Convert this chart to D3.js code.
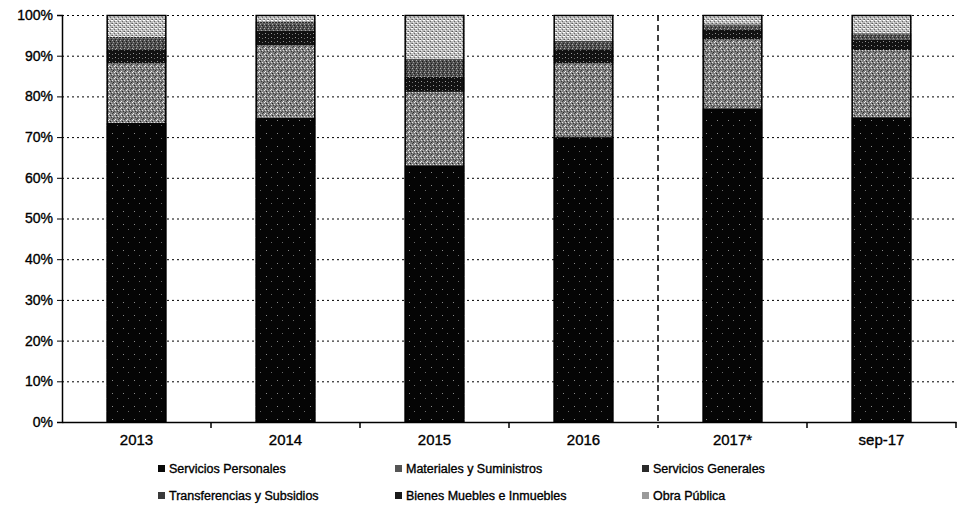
<!DOCTYPE html>
<html>
<head>
<meta charset="utf-8">
<script src="https://cdn.jsdelivr.net/npm/d3@7"></script>
<style>
  html, body { margin: 0; padding: 0; background: #fff; }
  svg { display: block; }
  text { font-family: "Liberation Sans", Arial, sans-serif; fill: #000; stroke: #000; stroke-width: 0.35px; }
</style>
</head>
<body>
<svg id="chart" width="960" height="512"></svg>
<script>
// Categories (years) along the x axis
const categories = ["2013", "2014", "2015", "2016", "2017*", "sep-17"];

// Share of spending by chapter, percent of each year's total
const serviciosPersonales   = [73.5, 74.8, 63.1, 70.0, 77.1, 74.9];
const materialesSuministros = [14.7, 17.8, 18.0, 18.2, 17.0, 16.5];
const serviciosGenerales    = [3.4, 3.5, 3.7, 3.2, 2.4, 2.5];
const transferencias        = [2.7, 1.8, 4.2, 2.0, 1.0, 1.4];
const bienesMuebles         = [0.3, 0.5, 0.2, 0.3, 0.2, 0.2];
const obraPublica           = [5.4, 1.6, 10.8, 6.3, 2.3, 4.5];

const seriesNames = [
  "Servicios Personales", "Materiales y Suministros", "Servicios Generales",
  "Transferencias y Subsidios", "Bienes Muebles e Inmuebles", "Obra Pública"
];
const seriesValues = [serviciosPersonales, materialesSuministros, serviciosGenerales,
                      transferencias, bienesMuebles, obraPublica];

// Y axis tick values
const yTicks = [0, 0.1, 0.2, 0.3, 0.4, 0.5, 0.6, 0.7, 0.8, 0.9, 1];

const keys = seriesNames;
const rows = categories.map((c, i) => {
  const r = { cat: c };
  keys.forEach((k, j) => r[k] = seriesValues[j][i]);
  return r;
});

const svg = d3.select("#chart");
const plotLeft = 62, plotRight = 956, plotTop = 15, plotBottom = 422;

// Halftone-like fills for each series
const defs = svg.append("defs");
function pattern(id, bg, dots, w, h) {
  const p = defs.append("pattern").attr("id", id)
    .attr("patternUnits", "userSpaceOnUse").attr("width", w).attr("height", h);
  p.append("rect").attr("width", w).attr("height", h).attr("fill", bg);
  dots.forEach(d => p.append("rect").attr("x", d[0]).attr("y", d[1])
    .attr("width", 1).attr("height", 1).attr("fill", d[2]));
}
pattern("pSP", "#050505", [[2, 3, "#8a8a8a"], [7, 8, "#6a6a6a"]], 11, 13);
pattern("pMat", "#808080", [[0, 0, "#f0f0f0"], [2, 1, "#202020"], [1, 2, "#d8d8d8"], [3, 3, "#3a3a3a"],
  [3, 0, "#bdbdbd"], [0, 3, "#505050"], [4, 2, "#e6e6e6"], [5, 4, "#2a2a2a"], [1, 5, "#f4f4f4"], [4, 5, "#444"]], 6, 6);
pattern("pSG", "#121212", [[1, 1, "#9a9a9a"], [4, 2, "#707070"]], 6, 4);
pattern("pTr", "#505050", [[0, 0, "#b0b0b0"], [2, 1, "#1a1a1a"], [1, 2, "#999"], [3, 3, "#222"]], 4, 4);
pattern("pBi", "#2a2a2a", [[1, 1, "#8a8a8a"]], 3, 3);
pattern("pOb", "#bdbdbd", [[0, 0, "#ffffff"], [2, 1, "#6a6a6a"], [1, 2, "#f0f0f0"], [3, 3, "#8a8a8a"],
  [3, 0, "#ffffff"], [0, 3, "#5a5a5a"]], 4, 4);
const fills = ["url(#pSP)", "url(#pMat)", "url(#pSG)", "url(#pTr)", "url(#pBi)", "url(#pOb)"];
const legendFills = ["#0a0a0a", "#555555", "#2a2a2a", "#3a3a3a", "#1a1a1a", "#9a9a9a"];

const x = d3.scaleBand().domain(categories).range([plotLeft, plotRight])
  .paddingInner(0.6).paddingOuter(0.3);
const y = d3.scaleLinear().domain([0, 1]).range([plotBottom, plotTop]);

// Dotted gridlines
svg.append("g").selectAll("line").data(yTicks.slice(1)).join("line")
  .attr("x1", plotLeft).attr("x2", plotRight)
  .attr("y1", d => y(d) + 0.5).attr("y2", d => y(d) + 0.5)
  .attr("stroke", "#000").attr("stroke-width", 1).attr("stroke-dasharray", "2,3");

// Stacked bars normalised to 100%
const stacked = d3.stack().keys(keys).offset(d3.stackOffsetExpand)(rows);
const g = svg.append("g");
stacked.forEach((layer, i) => {
  g.append("g").attr("fill", fills[i]).selectAll("rect").data(layer).join("rect")
    .attr("x", d => x(d.data.cat))
    .attr("width", x.bandwidth())
    .attr("y", d => y(d[1]))
    .attr("height", d => Math.max(0, y(d[0]) - y(d[1])));
});
// Bar outlines
g.append("g").selectAll("rect").data(rows).join("rect")
  .attr("x", d => x(d.cat) + 0.5).attr("width", x.bandwidth() - 1)
  .attr("y", y(1) + 0.5).attr("height", y(0) - y(1) - 1)
  .attr("fill", "none").attr("stroke", "#000").attr("stroke-width", 1.5);

// Y axis
const yAxis = svg.append("g").attr("transform", `translate(${plotLeft},0)`)
  .call(d3.axisLeft(y).tickValues(yTicks).tickFormat(d3.format(".0%")).tickSize(5).tickPadding(4));
yAxis.select(".domain").attr("stroke", "#000").attr("stroke-width", 1.5);
yAxis.selectAll("text").attr("font-size", 14).attr("font-family", "Liberation Sans, Arial, sans-serif");

// X axis with category labels
const xAxis = svg.append("g").attr("transform", `translate(0,${plotBottom})`)
  .call(d3.axisBottom(x).tickSize(0).tickPadding(12));
xAxis.select(".domain").attr("stroke", "#000").attr("stroke-width", 1.5);
xAxis.selectAll("text").attr("font-size", 15).attr("font-family", "Liberation Sans, Arial, sans-serif");

// Tick marks between categories; the 2016/2017 boundary is a dashed divider
const step = x.step();
const boundaries = d3.range(1, categories.length + 1).map(i => plotLeft + i * step);
svg.append("g").selectAll("line").data(boundaries.filter((b, i) => i !== 3)).join("line")
  .attr("x1", d => d).attr("x2", d => d).attr("y1", plotBottom).attr("y2", plotBottom + 6)
  .attr("stroke", "#000").attr("stroke-width", 1.5);
svg.append("line")
  .attr("x1", boundaries[3]).attr("x2", boundaries[3])
  .attr("y1", plotTop).attr("y2", plotBottom + 6)
  .attr("stroke", "#000").attr("stroke-width", 1.5).attr("stroke-dasharray", "6,4");

// Legend: three columns, two rows
const legendX = [158, 395, 642], legendY = [469, 496];
const legend = svg.append("g").selectAll("g").data(seriesNames).join("g")
  .attr("transform", (d, i) => `translate(${legendX[i % 3]},${legendY[Math.floor(i / 3)]})`);
legend.append("rect").attr("x", 0).attr("y", -4).attr("width", 7).attr("height", 7)
  .attr("fill", (d, i) => legendFills[i]);
legend.append("text").attr("x", 11).attr("y", 0).attr("dy", "0.35em")
  .attr("font-size", 12.5).attr("stroke-width", 0.2).text(d => d);
</script>
</body>
</html>
